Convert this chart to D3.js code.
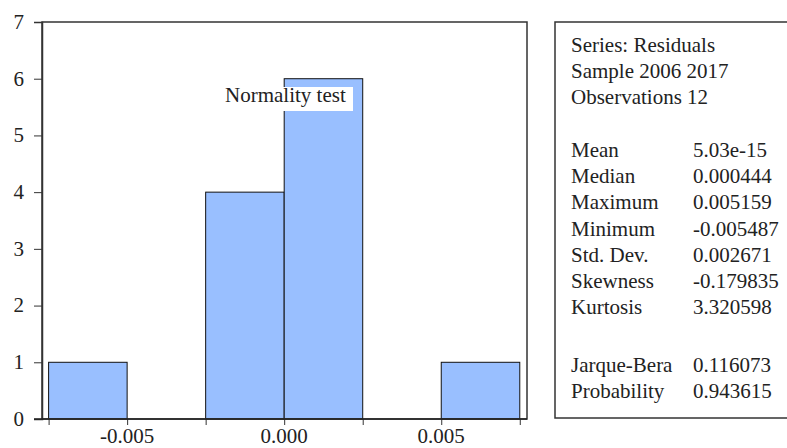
<!DOCTYPE html>
<html>
<head>
<meta charset="utf-8">
<script src="https://cdn.jsdelivr.net/npm/d3@7"></script>
<style>
  body { margin: 0; background: #fff; }
  svg text { font-family: "Liberation Serif", "DejaVu Serif", serif !important; fill: #222; }
</style>
</head>
<body>
<div id="chart"></div>
<script>
// histogram bins of the residuals (lower edge, upper edge, count)
var binLo = [-0.0075, -0.0025, 0.0, 0.005];
var binHi = [-0.005, 0.0, 0.0025, 0.0075];
var binCount = [1, 4, 6, 1];

var yTicks = [0, 1, 2, 3, 4, 5, 6, 7];
var xMinorTicks = [-0.0075, -0.005, -0.0025, 0, 0.0025, 0.005, 0.0075];
var xLabelTicks = [-0.005, 0, 0.005];

// statistics panel
var statHeader = ["Series: Residuals", "Sample 2006 2017", "Observations 12"];
var statNames = ["Mean", "Median", "Maximum", "Minimum", "Std. Dev.", "Skewness", "Kurtosis"];
var statValues = ["5.03e-15", "0.000444", "0.005159", "-0.005487", "0.002671", "-0.179835", "3.320598"];
var testNames = ["Jarque-Bera", "Probability"];
var testValues = ["0.116073", "0.943615"];

var W = 787, H = 448;
var margin = { top: 22, left: 42 };
var plotW = 527 - margin.left, plotH = 419 - margin.top;
var fs = "21px";

var svg = d3.select("#chart").append("svg")
  .attr("width", W).attr("height", H);

var g = svg.append("g")
  .attr("transform", "translate(" + margin.left + "," + margin.top + ")");

var x = d3.scaleLinear().domain([-0.00771, 0.00773]).range([0, plotW]);
var y = d3.scaleLinear().domain([0, 7]).range([plotH, 0]);

var bins = binCount.map(function(c, i) { return { lo: binLo[i], hi: binHi[i], count: c }; });

// bars
g.selectAll(".bar")
  .data(bins)
  .enter().append("rect")
  .attr("class", "bar")
  .attr("x", function(d) { return x(d.lo); })
  .attr("y", function(d) { return y(d.count); })
  .attr("width", function(d) { return x(d.hi) - x(d.lo); })
  .attr("height", function(d) { return y(0) - y(d.count); })
  .attr("fill", "#99bfff")
  .attr("stroke", "#111")
  .attr("stroke-width", 1);

// frame (top and right)
g.append("rect")
  .attr("x", 0).attr("y", 0)
  .attr("width", plotW).attr("height", plotH)
  .attr("fill", "none")
  .attr("stroke", "#333")
  .attr("stroke-width", 1.5);

// y axis
var yAxis = g.append("g")
  .call(d3.axisLeft(y).tickValues(yTicks).tickSize(8).tickPadding(10).tickFormat(d3.format("d")));
yAxis.select(".domain").attr("stroke", "#333").attr("stroke-width", 1.5);
yAxis.selectAll("line").attr("stroke", "#333");
yAxis.selectAll("text").attr("font-size", fs).attr("fill", "#222").attr("dy", "0.3em");

// x axis: minor ticks + labels
var xAxis = g.append("g")
  .attr("transform", "translate(0," + plotH + ")")
  .call(d3.axisBottom(x).tickValues(xMinorTicks).tickSize(6).tickFormat(""));
xAxis.select(".domain").remove();
xAxis.selectAll("line").attr("stroke", "#333");
g.append("line")
  .attr("x1", -8).attr("x2", plotW)
  .attr("y1", plotH).attr("y2", plotH)
  .attr("stroke", "#222").attr("stroke-width", 1.5);

g.selectAll(".xlab")
  .data(xLabelTicks)
  .enter().append("text")
  .attr("class", "xlab")
  .attr("x", function(d) { return x(d); })
  .attr("y", plotH + 24)
  .attr("text-anchor", "middle")
  .attr("font-size", fs)
  .text(function(d) { return d.toFixed(3); });

// "Normality test" label with white background
var lab = g.append("g").attr("transform", "translate(" + (222 - margin.left) + "," + (87 - margin.top) + ")");
lab.append("rect").attr("x", 0).attr("y", 0).attr("width", 131).attr("height", 24).attr("fill", "#fff");
lab.append("text").attr("x", 3).attr("y", 15).attr("font-size", fs).text("Normality test");

// stats box
var box = svg.append("g").attr("transform", "translate(555,22)");
box.append("rect")
  .attr("x", 0).attr("y", 0)
  .attr("width", 240).attr("height", 396)
  .attr("fill", "none")
  .attr("stroke", "#333").attr("stroke-width", 1.5);

var lineH = 26.2;
var valX = 138;
statHeader.forEach(function(t, i) {
  box.append("text").attr("x", 16).attr("y", 30 + i * lineH)
    .attr("font-size", fs).text(t);
});
statNames.forEach(function(t, i) {
  box.append("text").attr("x", 16).attr("y", 135 + i * lineH).attr("font-size", fs).text(t);
  box.append("text").attr("x", valX).attr("y", 135 + i * lineH).attr("font-size", fs).text(statValues[i]);
});
testNames.forEach(function(t, i) {
  box.append("text").attr("x", 16).attr("y", 350 + i * lineH).attr("font-size", fs).text(t);
  box.append("text").attr("x", valX).attr("y", 350 + i * lineH).attr("font-size", fs).text(testValues[i]);
});
</script>
</body>
</html>
